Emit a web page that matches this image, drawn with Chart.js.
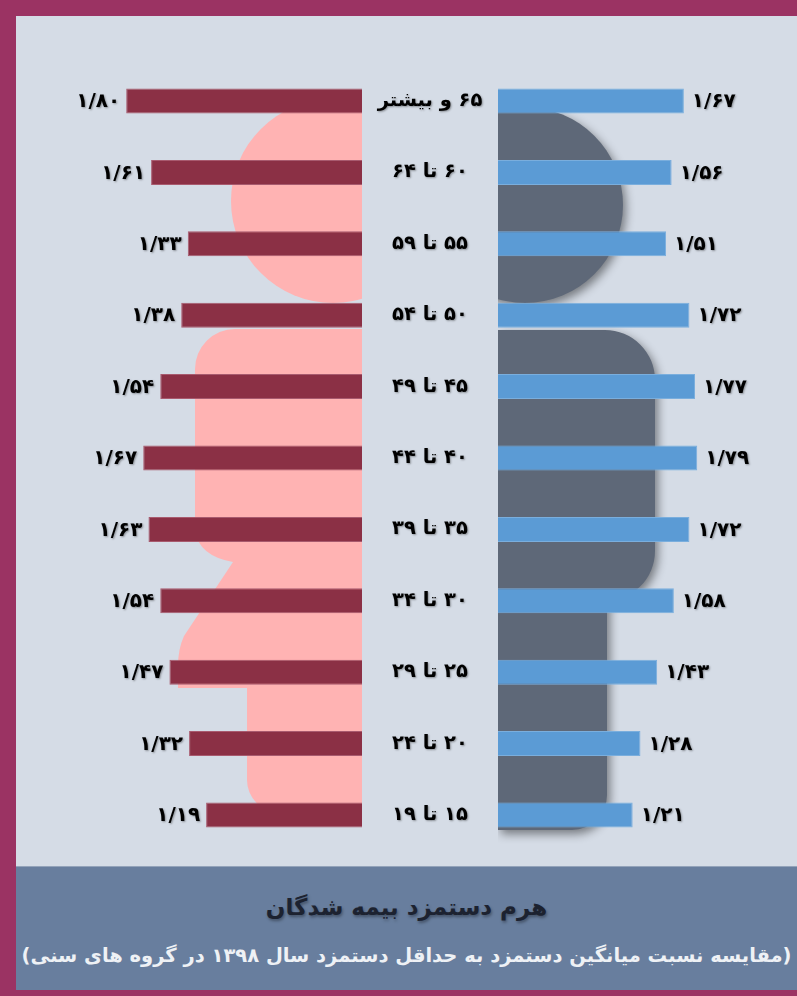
<!DOCTYPE html>
<html lang="fa">
<head>
<meta charset="UTF-8">
<title>هرم دستمزد بیمه شدگان</title>
<script src="https://cdn.jsdelivr.net/npm/chart.js"></script>
<style>
    html, body { margin: 0; padding: 0; background: #ffffff; }
    #frame {
        position: absolute; left: 0; top: 0; width: 797px; height: 996px;
        box-sizing: border-box; background: #D5DCE6;
        border-left: 16px solid #9B3363; border-top: 16px solid #9B3363; border-bottom: 6px solid #9B3363;
    }
    .wrap { position: absolute; top: 16px; height: 850px; }
    #leftWrap { left: 16px; width: 482px; }
    #rightWrap { left: 498px; width: 299px; }
    #band {
        position: absolute; left: 16px; top: 866px; width: 781px; height: 124px;
        background: #687E9E; border-top: 1px solid #93A3BA; box-sizing: border-box;
        direction: rtl; text-align: center; font-family: "DejaVu Sans", sans-serif;
    }
    #title {
        position: absolute; left: 0; right: 0; top: 27px;
        font-size: 23px; font-weight: bold; color: #1C2230;
        text-shadow: 1px 2px 3px rgba(0,0,0,0.35);
    }
    #subtitle {
        position: absolute; left: 0; right: 0; top: 77px;
        font-size: 19.5px; font-weight: bold; color: #EEF1F5;
    }
</style>
</head>
<body>
<div id="frame"></div>
<div class="wrap" id="leftWrap"><canvas id="leftChart"></canvas></div>
<div class="wrap" id="rightWrap"><canvas id="rightChart"></canvas></div>
<div id="band">
    <div id="title">هرم دستمزد بیمه شدگان</div>
    <div id="subtitle">(مقایسه نسبت میانگین دستمزد به حداقل دستمزد سال ۱۳۹۸ در گروه های سنی)</div>
</div>
<script>
    // age groups, top to bottom
    const ageGroups = ['۶۵ و بیشتر', '۶۰ تا ۶۴', '۵۵ تا ۵۹', '۵۰ تا ۵۴', '۴۵ تا ۴۹', '۴۰ تا ۴۴',
                       '۳۵ تا ۳۹', '۳۰ تا ۳۴', '۲۵ تا ۲۹', '۲۰ تا ۲۴', '۱۵ تا ۱۹'];
    // ratio of average wage to minimum wage
    const womenRatio = [1.80, 1.61, 1.33, 1.38, 1.54, 1.67, 1.63, 1.54, 1.47, 1.32, 1.19];
    const menRatio   = [1.67, 1.56, 1.51, 1.72, 1.77, 1.79, 1.72, 1.58, 1.43, 1.28, 1.21];
    const axisMax = 2;

    const faDigits = '۰۱۲۳۴۵۶۷۸۹';
    function faNum(v) {
        return v.toFixed(2).replace('.', '/').replace(/\d/g, d => faDigits[d]);
    }

    function textShadow(ctx) {
        ctx.shadowColor = 'rgba(0,0,0,0.35)';
        ctx.shadowOffsetX = 1;
        ctx.shadowOffsetY = 1;
        ctx.shadowBlur = 2;
    }

    // silhouettes behind the bars, placed from the scales
    const silhouettePlugin = {
        id: 'silhouette',
        beforeDatasetsDraw(chart, args, opts) {
            const ctx = chart.ctx;
            const xz = chart.scales.x.getPixelForValue(0);
            const y0 = chart.scales.y.getPixelForValue(0);
            ctx.save();
            if (opts.side === 'left') {
                ctx.fillStyle = '#FFB3B3';
                ctx.beginPath();
                ctx.rect(0, 0, xz, chart.height);
                ctx.clip();
                ctx.beginPath();
                ctx.arc(xz - 29, y0 + 100, 102, 0, Math.PI * 2);
                ctx.fill();
                const top = y0 + 228, left = xz - 167;
                ctx.beginPath();
                ctx.moveTo(xz, top);
                ctx.lineTo(left + 40, top);
                ctx.arcTo(left, top, left, top + 40, 40);
                ctx.lineTo(left, y0 + 430);
                ctx.quadraticCurveTo(left + 4, y0 + 455, xz - 129, y0 + 461);
                ctx.lineTo(xz - 178, y0 + 535);
                ctx.quadraticCurveTo(xz - 184, y0 + 548, xz - 184, y0 + 565);
                ctx.lineTo(xz - 184, y0 + 587);
                ctx.lineTo(xz - 115, y0 + 587);
                ctx.lineTo(xz - 115, y0 + 680);
                ctx.arcTo(xz - 115, y0 + 711, xz - 84, y0 + 711, 32);
                ctx.lineTo(xz, y0 + 711);
                ctx.closePath();
                ctx.fill();
            } else {
                ctx.fillStyle = '#5E6878';
                ctx.shadowColor = 'rgba(0,0,0,0.45)';
                ctx.shadowBlur = 10;
                ctx.shadowOffsetX = 3;
                ctx.shadowOffsetY = 4;
                ctx.beginPath();
                ctx.rect(xz, 0, chart.width, chart.height);
                ctx.clip();
                ctx.beginPath();
                ctx.arc(xz + 27, y0 + 104, 98, 0, Math.PI * 2);
                ctx.fill();
                const top = y0 + 229, right = xz + 157, bodyBottom = y0 + 500, legRight = xz + 109, bottom = y0 + 729;
                ctx.beginPath();
                ctx.moveTo(xz, top);
                ctx.lineTo(right - 50, top);
                ctx.arcTo(right, top, right, top + 50, 50);
                ctx.lineTo(right, bodyBottom - 50);
                ctx.arcTo(right, bodyBottom, right - 50, bodyBottom, 50);
                ctx.lineTo(legRight, bodyBottom);
                ctx.lineTo(legRight, bottom - 35);
                ctx.arcTo(legRight, bottom, legRight - 35, bottom, 35);
                ctx.lineTo(xz, bottom);
                ctx.closePath();
                ctx.fill();
            }
            ctx.restore();
        }
    };

    const labelPlugin = {
        id: 'valueLabels',
        afterDatasetsDraw(chart, args, opts) {
            const ctx = chart.ctx;
            const meta = chart.getDatasetMeta(0);
            const values = chart.data.datasets[0].data;
            ctx.save();
            textShadow(ctx);
            ctx.fillStyle = '#000';
            ctx.font = 'bold 20px "DejaVu Sans", sans-serif';
            ctx.textBaseline = 'middle';
            meta.data.forEach((bar, i) => {
                if (opts.side === 'left') {
                    ctx.textAlign = 'right';
                    ctx.fillText(faNum(values[i]), bar.x - 6, bar.y + 1);
                } else {
                    ctx.textAlign = 'left';
                    ctx.fillText(faNum(values[i]), bar.x + 8, bar.y + 1);
                }
            });
            if (opts.side === 'left') {
                // age group names in the gap between the two halves
                ctx.direction = 'rtl';
                ctx.textAlign = 'center';
                ctx.font = 'bold 19.5px "DejaVu Sans", sans-serif';
                const cx = chart.chartArea.right + 68;
                chart.data.labels.forEach((lab, i) => {
                    ctx.fillText(lab, cx, chart.scales.y.getPixelForValue(i));
                });
            }
            ctx.restore();
        }
    };

    function makeChart(id, side, values, color, border, padding) {
        return new Chart(document.getElementById(id), {
            type: 'bar',
            data: {
                labels: ageGroups,
                datasets: [{
                    data: values,
                    backgroundColor: color,
                    borderColor: border,
                    borderWidth: 1,
                    barPercentage: 0.35,
                    categoryPercentage: 1.0
                }]
            },
            options: {
                indexAxis: 'y',
                responsive: true,
                maintainAspectRatio: false,
                animation: false,
                layout: { padding: padding },
                scales: {
                    x: { type: 'linear', min: 0, max: axisMax, reverse: side === 'left', display: false },
                    y: { type: 'category', display: false }
                },
                plugins: {
                    legend: { display: false },
                    tooltip: { enabled: false },
                    silhouette: { side: side },
                    valueLabels: { side: side }
                }
            },
            plugins: [silhouettePlugin, labelPlugin]
        });
    }

    makeChart('leftChart', 'left', womenRatio, '#8B3045', '#A85A6E',
        { left: 84, right: 136, top: 49.3, bottom: 15.3 });
    makeChart('rightChart', 'right', menRatio, '#5B9BD5', '#7AAEDD',
        { left: 0, right: 76.4, top: 49.3, bottom: 15.3 });
</script>
</body>
</html>
